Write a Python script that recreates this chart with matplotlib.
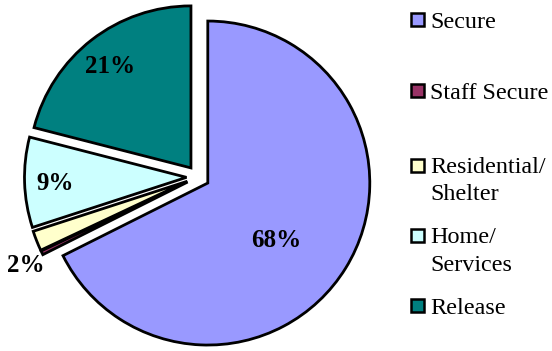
import matplotlib.pyplot as plt
import matplotlib.transforms as mtransforms
import numpy as np
from matplotlib.patches import Rectangle

plt.rcParams["font.family"] = ["Liberation Serif", "DejaVu Serif"]

categories = ["Secure", "Staff Secure", "Residential/\nShelter", "Home/\nServices", "Release"]
shares = [67.6, 0.4, 2.0, 9.0, 21.0]
colors = ["#9999FF", "#993366", "#FFFFCC", "#CCFFFF", "#008080"]

# layout (pixels, origin top-left)
W, H = 552, 351
R = 162
cx, cy = 198, 177
explode = 0.071
label_dist = [0.54, 0.0, 1.12, 0.81, 0.81]
label_nudge = [-6, 0, 5, 0, 0]
legend_rows = [19.7, 90.5, 165, 235.5, 305.5]
line_gap = 27

fig = plt.figure(figsize=(W / 100, H / 100), dpi=100)
span = 1.2 * R
ax = fig.add_axes([(cx - span) / W, (H - cy - span) / H, 2 * span / W, 2 * span / H])

wedges, _ = ax.pie(shares, colors=colors, startangle=90, counterclock=False,
                   explode=[explode] * len(shares),
                   wedgeprops=dict(edgecolor="black", linewidth=2))
for w in wedges:
    w.set_clip_on(False)
ax.set_xlim(-1.2, 1.2)
ax.set_ylim(-1.2, 1.2)
ax.axis("off")

# percentage labels along each slice's bisector
total = sum(shares)
cum = 0.0
for s, d, nudge in zip(shares, label_dist, label_nudge):
    mid = np.deg2rad(90 - 360 * (cum + s / 2) / total + nudge)
    cum += s
    pct = round(100 * s / total)
    if pct < 1:
        continue
    r = explode + d
    ax.text(r * np.cos(mid), r * np.sin(mid), f"{pct}%", ha="center",
            va="center_baseline", fontsize=18, fontweight="bold")

# legend drawn by hand in pixel coordinates
px = mtransforms.IdentityTransform()
for y, label, c in zip(legend_rows, categories, colors):
    fig.patches.append(Rectangle((411, H - y - 6.5), 13, 13, facecolor=c,
                                 edgecolor="black", linewidth=1.8, transform=px))
    n_extra = label.count("\n")
    fig.text(430, H - y - 8.5 - n_extra * line_gap, label, transform=px,
             ha="left", va="baseline", fontsize=17.4, linespacing=1.42)

fig.savefig("out.png", dpi=100)
